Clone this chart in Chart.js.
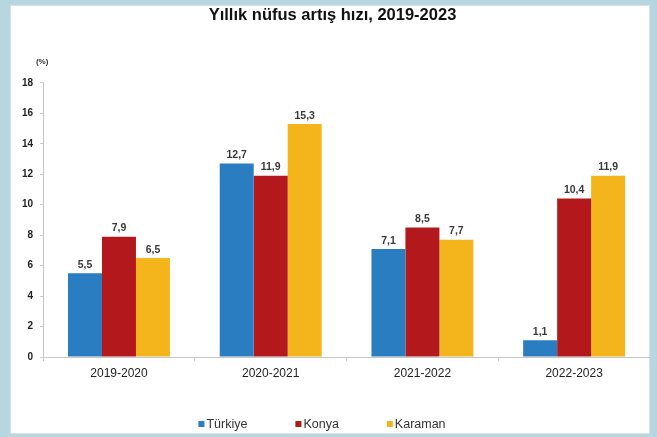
<!DOCTYPE html>
<html>
<head>
<meta charset="utf-8">
<script src="https://cdn.jsdelivr.net/npm/chart.js@4.4.0/dist/chart.umd.min.js"></script>
<style>
  html, body { margin: 0; padding: 0; }
  body { width: 657px; height: 437px; background: #b8d6df; position: relative; overflow: hidden; }
  #panel { position: absolute; left: 10px; top: 5px; width: 638px; height: 427px; background: #fff; border: 1px solid #d4e3e8; }
  #chart { position: absolute; left: 0; top: 0; }
</style>
</head>
<body>
<div id="panel"></div>
<canvas id="chart" width="657" height="437"></canvas>
<script>
// veriler
var donemler = ['2019-2020', '2020-2021', '2021-2022', '2022-2023'];
var turkiye = [5.5, 12.7, 7.1, 1.1];
var konya = [7.9, 11.9, 8.5, 10.4];
var karaman = [6.5, 15.3, 7.7, 11.9];
var seriAdlari = ['Türkiye', 'Konya', 'Karaman'];
var renkler = ['#2b7dc1', '#b3181c', '#f4b41c'];
var yEksenTicks = [0, 2, 4, 6, 8, 10, 12, 14, 16, 18];

var fontAile = '"Liberation Sans", Arial, sans-serif';

// bar ustu degerler (virgullu)
var degerYazisi = {
    id: 'degerYazisi',
    afterDatasetsDraw: function (chart) {
        var ctx = chart.ctx;
        ctx.save();
        ctx.font = 'bold 10.5px ' + fontAile;
        ctx.fillStyle = '#3a3a3a';
        ctx.textAlign = 'center';
        ctx.textBaseline = 'bottom';
        chart.data.datasets.forEach(function (ds, i) {
            chart.getDatasetMeta(i).data.forEach(function (bar, j) {
                ctx.fillText(String(ds.data[j]).replace('.', ','), bar.x, bar.y - 3);
            });
        });
        ctx.restore();
    }
};

// (%) yazisi ve alttaki lejant
var ekYazilar = {
    id: 'ekYazilar',
    afterDraw: function (chart) {
        var ctx = chart.ctx;
        var area = chart.chartArea;
        ctx.save();
        ctx.font = 'bold 8px ' + fontAile;
        ctx.fillStyle = '#333';
        ctx.textAlign = 'center';
        ctx.textBaseline = 'middle';
        ctx.fillText('(%)', area.left - 1, area.top - 21);

        // lejant
        ctx.font = '12.5px ' + fontAile;
        var kutu = 6, bosluk = 2, aralik = 48;
        var genislikler = seriAdlari.map(function (s) { return kutu + bosluk + ctx.measureText(s).width; });
        var toplam = genislikler.reduce(function (a, b) { return a + b; }, 0) + aralik * (seriAdlari.length - 1);
        var x = 322 - toplam / 2;
        var y = 424;
        ctx.textAlign = 'left';
        seriAdlari.forEach(function (s, i) {
            ctx.fillStyle = renkler[i];
            ctx.fillRect(x, y - kutu / 2, kutu, kutu);
            ctx.fillStyle = '#333';
            ctx.fillText(s, x + kutu + bosluk, y + 1);
            x += genislikler[i] + aralik;
        });
        ctx.restore();
    }
};

new Chart(document.getElementById('chart'), {
    type: 'bar',
    data: {
        labels: donemler,
        datasets: [
            { label: seriAdlari[0], data: turkiye, backgroundColor: renkler[0] },
            { label: seriAdlari[1], data: konya, backgroundColor: renkler[1] },
            { label: seriAdlari[2], data: karaman, backgroundColor: renkler[2] }
        ]
    },
    options: {
        responsive: false,
        animation: false,
        categoryPercentage: 0.672,
        barPercentage: 1,
        layout: { padding: { left: 15, right: 7, top: 4, bottom: 51.5 } },
        plugins: {
            legend: { display: false },
            tooltip: { enabled: false },
            title: {
                display: true,
                text: 'Yıllık nüfus artış hızı, 2019-2023',
                color: '#111',
                font: { family: fontAile, size: 16.5, weight: 'bold' },
                padding: { top: 2, bottom: 57 }
            }
        },
        scales: {
            x: {
                grid: { offset: true, drawOnChartArea: false, tickLength: 4, color: '#c8c8c8' },
                border: { color: '#c8c8c8' },
                ticks: { color: '#222', padding: 5, font: { family: fontAile, size: 12 } }
            },
            y: {
                min: 0,
                max: 18,
                afterBuildTicks: function (axis) {
                    axis.ticks = yEksenTicks.map(function (v) { return { value: v }; });
                },
                grid: { drawOnChartArea: false, tickLength: 3, color: '#c8c8c8' },
                border: { color: '#c8c8c8' },
                ticks: { color: '#222', padding: 7, font: { family: fontAile, size: 10, weight: 'bold' } }
            }
        }
    },
    plugins: [degerYazisi, ekYazilar]
});
</script>
</body>
</html>
